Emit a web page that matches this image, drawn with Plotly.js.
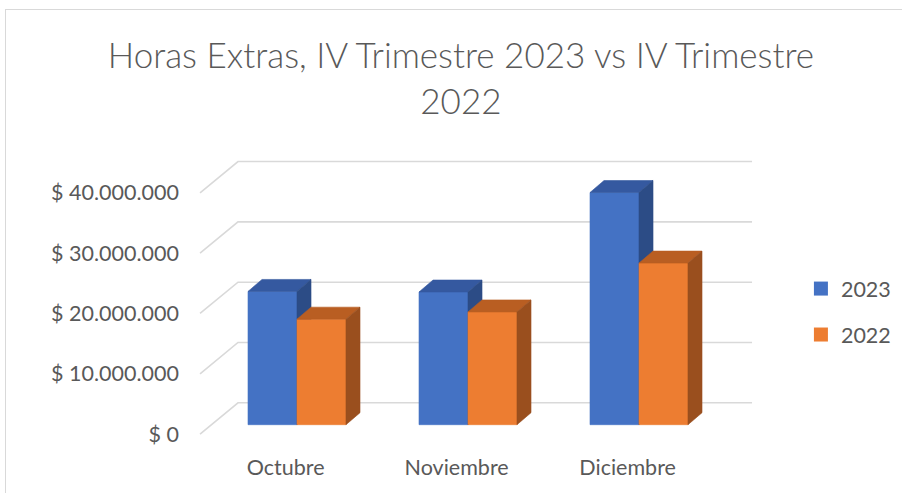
<!DOCTYPE html>
<html>
<head>
<meta charset="utf-8">
<script src="https://cdn.plot.ly/plotly-3.0.1.min.js"></script>
<style>
  html, body { margin: 0; padding: 0; background: #ffffff; }
  #wrap { position: relative; width: 902px; height: 493px; overflow: hidden; }
  #chart { position: absolute; left: 0; top: 0; width: 902px; height: 493px; }
  #frame { position: absolute; left: 5px; top: 9px; width: 920px; height: 520px;
           border-top: 1.5px solid #d9d9d9; border-left: 1.5px solid #d9d9d9; pointer-events: none; }
</style>
</head>
<body>
<div id="wrap">
  <div id="chart"></div>
  <div id="frame"></div>
</div>
<script>
// ---- data ----
const categories = ["Octubre", "Noviembre", "Diciembre"];
const seriesNames = ["2023", "2022"];
const values2023 = [22100000, 22000000, 38500000];
const values2022 = [17500000, 18700000, 26800000];
const yTickValues = [0, 10000000, 20000000, 30000000, 40000000];
const yTickLabels = ["$ 0", "$ 10.000.000", "$ 20.000.000", "$ 30.000.000", "$ 40.000.000"];

// ---- style / geometry ----
const textColor = "#595959";
const gridColor = "#d9d9d9";
const faceColors = [
  { front: "#4472C4", top: "#3559A0", side: "#2C4C86" },
  { front: "#ED7D31", top: "#B95E22", side: "#9A4F1E" }
];
const barW = 0.2865;          // width of one bar in category units
const barDX = 0.082;          // bar depth (x units)
const barDY = 1.99e6;         // bar depth (y units)
const wallDX = 0.222;         // full depth (x units)
const wallDY = 5.19e6;        // full depth (y units)
const frac = 0.3;             // position of bar plane within the depth
const frontLeft = -0.567;
const backRight = 2.661;

const traces = [];

// gridlines (back wall + left diagonals)
const backLeft = frontLeft + wallDX;
yTickValues.forEach(v => {
  const yb = v + (1 - frac) * wallDY;
  const yf = v - frac * wallDY;
  traces.push({
    type: "scatter", mode: "lines", x: [frontLeft, backLeft, backRight], y: [yf, yb, yb],
    line: { color: gridColor, width: 1.6 }, hoverinfo: "skip", showlegend: false
  });
});

function poly(xs, ys, color) {
  return {
    type: "scatter", mode: "lines", x: xs, y: ys, fill: "toself", fillcolor: color,
    line: { width: 0.6, color: color }, hoverinfo: "skip", showlegend: false
  };
}

const allSeries = [values2023, values2022];
categories.forEach((c, i) => {
  allSeries.forEach((vals, s) => {
    const h = vals[i];
    const x0 = i + (s - 1) * barW;
    const x1 = x0 + barW;
    const col = faceColors[s];
    traces.push(poly([x0, x1, x1, x0, x0], [0, 0, h, h, 0], col.front));
    traces.push(poly([x0, x1, x1 + barDX, x0 + barDX, x0], [h, h, h + barDY, h + barDY, h], col.top));
    traces.push(poly([x1, x1 + barDX, x1 + barDX, x1, x1], [0, barDY, h + barDY, h, 0], col.side));
  });
});

// legend entries
seriesNames.forEach((n, s) => {
  traces.push({
    type: "scatter", mode: "markers", x: [null], y: [null], name: n,
    marker: { symbol: "square", size: 14, color: faceColors[s].front },
    legendgroup: n, showlegend: true
  });
});

const layout = {
  width: 902, height: 493,
  margin: { l: 180, r: 0, t: 140, b: 41 },
  paper_bgcolor: "#ffffff", plot_bgcolor: "#ffffff",
  font: { family: "Lato, 'Open Sans', sans-serif", color: textColor, size: 21.5 },
  title: {
    text: "Horas Extras, IV Trimestre 2023 vs IV Trimestre<br>2022",
    font: { family: "Lato, sans-serif", size: 35, color: textColor, weight: 300 },
    x: 0.511, xanchor: "center", y: 0.862, yanchor: "middle"
  },
  xaxis: {
    range: [-0.6842, 3.538], showgrid: false, zeroline: false, showline: false,
    tickmode: "array", tickvals: categories.map((c, i) => i - frac * wallDX), ticktext: categories,
    ticks: "", tickfont: { size: 21.5, color: textColor }, fixedrange: true
  },
  yaxis: {
    range: [-4.527e6, 47.21e6], showgrid: false, zeroline: false, showline: false,
    tickmode: "array", tickvals: yTickValues.map(v => v - frac * wallDY), ticktext: yTickLabels,
    ticks: "", tickfont: { size: 21.5, color: textColor }, fixedrange: true
  },
  legend: {
    x: 0.860, xanchor: "left", y: 0.45, yanchor: "middle",
    font: { size: 21.5, color: textColor }, traceorder: "grouped", tracegroupgap: 15,
    itemwidth: 30, bgcolor: "rgba(0,0,0,0)"
  },
  showlegend: true
};

Plotly.newPlot("chart", traces, layout, { displayModeBar: false, staticPlot: true });
</script>
</body>
</html>
